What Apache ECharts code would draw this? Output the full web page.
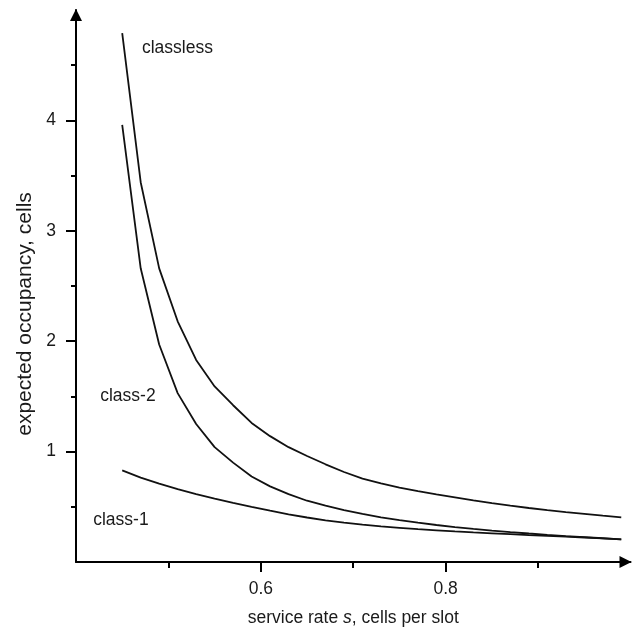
<!DOCTYPE html>
<html>
<head>
<meta charset="utf-8">
<script src="https://cdn.jsdelivr.net/npm/echarts@6/dist/echarts.min.js"></script>
<style>html,body{margin:0;padding:0;background:#fff;}#c{width:637px;height:632px;}</style>
</head>
<body>
<div id="c"></div>
<script>
const serviceRate = [0.45,0.47,0.49,0.51,0.53,0.55,0.57,0.59,0.61,0.63,0.65,0.67,0.69,0.71,0.73,0.75,0.77,0.79,0.81,0.83,0.85,0.87,0.89,0.91,0.93,0.95,0.97,0.99];
const classless = [4.79,3.44,2.66,2.18,1.83,1.59,1.42,1.26,1.14,1.04,0.96,0.885,0.815,0.755,0.712,0.674,0.641,0.612,0.585,0.558,0.533,0.51,0.489,0.47,0.452,0.436,0.42,0.405];
const class2 = [3.96,2.66,1.97,1.53,1.25,1.04,0.90,0.775,0.685,0.615,0.555,0.51,0.47,0.435,0.405,0.38,0.356,0.335,0.316,0.30,0.285,0.271,0.258,0.246,0.235,0.225,0.215,0.205];
const class1 = [0.83,0.765,0.71,0.66,0.615,0.575,0.536,0.50,0.465,0.432,0.403,0.378,0.357,0.339,0.323,0.31,0.297,0.287,0.277,0.268,0.26,0.252,0.244,0.237,0.23,0.222,0.214,0.205];
const xMajorTicks = [0.6, 0.8];
const xMinorTicks = [0.5, 0.7, 0.9];
const yMajorTicks = [1, 2, 3, 4];
const yMinorTicks = [0.5, 1.5, 2.5, 3.5, 4.5];
const seriesNames = ['classless', 'class-2', 'class-1'];
const labelAnchors = [[0.5097, 4.655], [0.4562, 1.504], [0.4486, 0.378]];

const FONT = 'Liberation Sans';
const TXT = '#1a1a1a';
const pair = (ys) => serviceRate.map((x, i) => [x, ys[i]]);

const chart = echarts.init(document.getElementById('c'), null, {renderer: 'canvas'});
const lineStyle = {color: '#111', width: 1.8};
const option = {
  animation: false,
  backgroundColor: '#fff',
  grid: {left: 76, right: 6.5, top: 10, bottom: 67, containLabel: false},
  xAxis: [{
    type: 'value', min: 0.4, max: 1.0,
    splitLine: {show: false},
    axisLine: {show: true, lineStyle: {color: '#000', width: 2}, symbol: ['none', 'triangle'], symbolSize: [12, 12], symbolOffset: [0, -5]},
    axisTick: {show: true, customValues: xMajorTicks, length: 10, lineStyle: {color: '#000', width: 2}},
    axisLabel: {show: true, customValues: xMajorTicks, formatter: v => v.toFixed(1), margin: 18, fontFamily: FONT, fontSize: 17.5, color: TXT},
    name: 'service rate {i|s}, cells per slot', nameLocation: 'middle', nameGap: 47,
    nameTextStyle: {fontFamily: FONT, fontSize: 17.5, color: TXT, rich: {i: {fontFamily: FONT, fontSize: 17.5, fontStyle: 'italic', color: TXT}}}
  }, {
    type: 'value', min: 0.4, max: 1.0, position: 'bottom',
    splitLine: {show: false}, axisLine: {show: false},
    axisTick: {show: true, customValues: xMinorTicks, length: 6, lineStyle: {color: '#000', width: 2}},
    axisLabel: {show: false}
  }],
  yAxis: [{
    type: 'value', min: 0, max: 5,
    splitLine: {show: false},
    axisLine: {show: true, lineStyle: {color: '#000', width: 2}, symbol: ['none', 'triangle'], symbolSize: [12, 12], symbolOffset: [0, -5]},
    axisTick: {show: true, customValues: yMajorTicks, length: 10, lineStyle: {color: '#000', width: 2}},
    axisLabel: {show: true, customValues: yMajorTicks, formatter: v => String(v), margin: 20, fontFamily: FONT, fontSize: 17.5, color: TXT}
  }, {
    type: 'value', min: 0, max: 5, position: 'left',
    splitLine: {show: false}, axisLine: {show: false},
    axisTick: {show: true, customValues: yMinorTicks, length: 5, lineStyle: {color: '#000', width: 2}},
    axisLabel: {show: false}
  }],
  series: [
    {name: seriesNames[0], type: 'line', data: pair(classless), showSymbol: false, symbol: 'none', lineStyle: lineStyle, xAxisIndex: 0, yAxisIndex: 0},
    {name: seriesNames[1], type: 'line', data: pair(class2), showSymbol: false, symbol: 'none', lineStyle: lineStyle, xAxisIndex: 0, yAxisIndex: 0},
    {name: seriesNames[2], type: 'line', data: pair(class1), showSymbol: false, symbol: 'none', lineStyle: lineStyle, xAxisIndex: 0, yAxisIndex: 0}
  ]
};
chart.setOption(option);

const graphics = seriesNames.map((n, i) => {
  const p = chart.convertToPixel({xAxisIndex: 0, yAxisIndex: 0}, labelAnchors[i]);
  return {type: 'text', x: p[0], y: p[1], style: {text: n, fontFamily: FONT, fontSize: 17.5, fill: TXT, align: 'center', verticalAlign: 'middle'}};
});
graphics.push({type: 'text', x: 25, y: 314, rotation: Math.PI / 2, style: {text: 'expected occupancy, cells', fontFamily: FONT, fontSize: 21, fill: TXT, align: 'center', verticalAlign: 'middle'}});
chart.setOption({graphic: graphics});
</script>
</body>
</html>
